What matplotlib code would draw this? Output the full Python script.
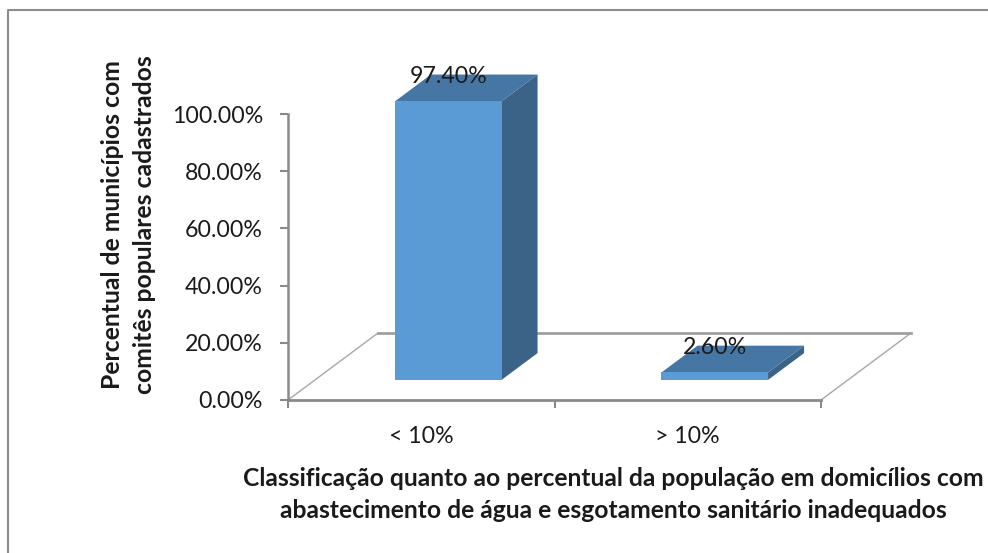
import matplotlib
matplotlib.use("Agg")
import matplotlib.pyplot as plt
from matplotlib.patches import Polygon
from matplotlib.lines import Line2D
from matplotlib import font_manager

# ---- data ----
categories = ["< 10%", "> 10%"]
values = [97.40, 2.60]
data_labels = ["97.40%", "2.60%"]
y_ticks = [0, 20, 40, 60, 80, 100]
y_tick_labels = ["0.00%", "20.00%", "40.00%", "60.00%", "80.00%", "100.00%"]
y_title_lines = ["Percentual de municípios com", "comitês populares cadastrados"]
x_title_lines = ["Classificação quanto ao percentual da população em domicílios com",
                 "abastecimento de água e esgotamento sanitário inadequados"]

W, H = 988, 553
DPI = 100
fig = plt.figure(figsize=(W / DPI, H / DPI), dpi=DPI)
fig.patch.set_facecolor("white")

names = {f.name for f in font_manager.fontManager.ttflist}
FONT = [n for n in ["Lato", "DejaVu Sans"] if n in names] or ["DejaVu Sans"]
plt.rcParams["font.family"] = FONT

def px(x, y):
    return x / W, 1 - y / H

# main axes = front plane of 3D chart
left, right, top, bottom = 288, 821, 114, 400
ax = fig.add_axes([left / W, 1 - bottom / H, (right - left) / W, (bottom - top) / H])
ax.set_xlim(-0.5, 1.5)
ax.set_ylim(0, 100)
ax.patch.set_alpha(0)
for s in ["top", "right"]:
    ax.spines[s].set_visible(False)
axis_col = "#8a8a8a"
ax.spines["left"].set_color(axis_col)
ax.spines["left"].set_linewidth(1.8)
ax.spines["bottom"].set_color(axis_col)
ax.spines["bottom"].set_linewidth(2.0)

# depth (in data units)
px_per_cat = (right - left) / 2.0
px_per_pct = (bottom - top) / 100.0
DX = 90 / px_per_cat
DY = 67 / px_per_pct
d0, d1 = 0.3, 0.7
bw = 0.40

# floor
fl = dict(color="#a8a8a8", lw=1.0, clip_on=False, zorder=1)
ax.add_line(Line2D([-0.5, -0.5 + DX], [0, DY], **fl))
ax.add_line(Line2D([1.5, 1.5 + DX], [0, DY], **fl))
ax.add_line(Line2D([-0.5 + DX, 1.5 + DX], [DY, DY], color="#a0a0a0", lw=2.0,
                   clip_on=False, zorder=1))

front_c, top_c, side_c = "#5b9bd5", "#4677a4", "#3b6387"
for i, v in enumerate(values):
    xl = i - bw / 2
    xr = i + bw / 2
    fx0, fx1 = xl + d0 * DX, xr + d0 * DX
    bx0, bx1 = xl + d1 * DX, xr + d1 * DX
    fy0 = d0 * DY
    by0 = d1 * DY
    ax.add_patch(Polygon([(fx1, fy0), (fx1, fy0 + v), (bx1, by0 + v), (bx1, by0)],
                         closed=True, fc=side_c, ec="none", clip_on=False, zorder=3))
    ax.add_patch(Polygon([(fx0, fy0 + v), (fx1, fy0 + v), (bx1, by0 + v), (bx0, by0 + v)],
                         closed=True, fc=top_c, ec="none", clip_on=False, zorder=3))
    ax.add_patch(Polygon([(fx0, fy0), (fx1, fy0), (fx1, fy0 + v), (fx0, fy0 + v)],
                         closed=True, fc=front_c, ec="none", clip_on=False, zorder=4))

# ticks
ax.set_yticks(y_ticks)
ax.set_yticklabels(y_tick_labels)
ax.tick_params(axis="y", direction="out", length=6, width=1.5, color=axis_col, pad=12)
ax.set_xticks([0, 1])
ax.set_xticklabels(categories)
ax.set_xticks([-0.5, 0.5, 1.5], minor=True)
ax.tick_params(axis="x", which="major", length=0, pad=19)
ax.tick_params(axis="x", which="minor", direction="out", length=5.5, width=1.5, color=axis_col)

renderer = fig.canvas.get_renderer()

def fit(text, target, **kw):
    t = fig.text(0, 0, text, fontsize=10, **kw)
    w = t.get_window_extent(renderer).width
    t.remove()
    return 10 * target / w

fs_tick = fit("100.00%", 91)
for lab in ax.get_yticklabels() + ax.get_xticklabels():
    lab.set_fontsize(fs_tick)
    lab.set_color("#1a1a1a")

# data labels
for i, v in enumerate(values):
    cx = i + 0.5 * DX
    cy = 0.5 * DY + v
    ax.annotate(data_labels[i], (cx, cy), xytext=(-13, 8), textcoords="offset points",
                ha="center", va="center", fontsize=fs_tick, color="#1a1a1a",
                zorder=6, annotation_clip=False)

# axis titles
fs_yt = fit(y_title_lines[0], 330, weight="bold")
for xpos, line in zip([113, 145], y_title_lines):
    fig.text(*px(xpos, 225), line, rotation=90, ha="center", va="center",
             weight="bold", fontsize=fs_yt, color="#1a1a1a")

fs_xt = fit(x_title_lines[0], 742, weight="bold")
for ypos, line in zip([479, 511], x_title_lines):
    fig.text(*px(613, ypos), line, ha="center", va="center", weight="bold",
             fontsize=fs_xt, color="#1a1a1a")

# chart frame
fig.add_artist(Line2D([8 / W, 8 / W, 1.01], [-0.01, 1 - 10 / H, 1 - 10 / H],
                      transform=fig.transFigure, color="#8c8c8c", lw=1.5))

fig.savefig("out.png", dpi=DPI, facecolor="white")
